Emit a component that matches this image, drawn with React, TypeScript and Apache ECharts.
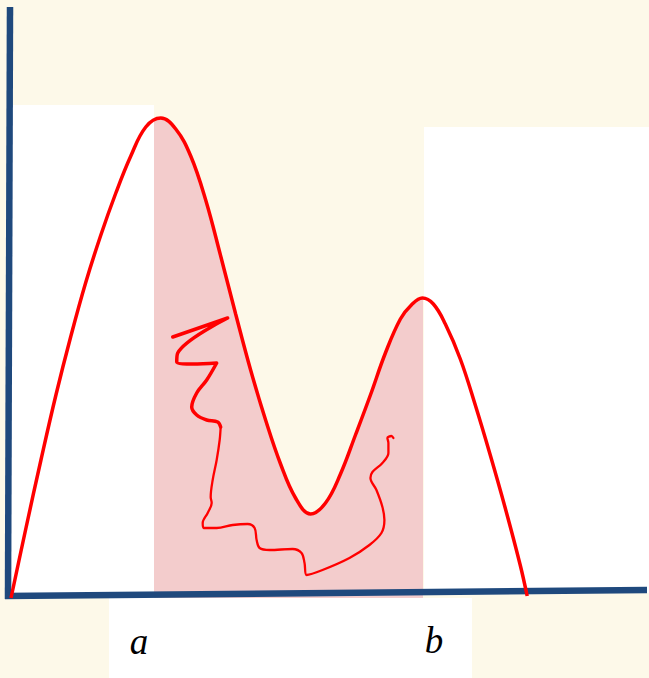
import { useEffect, useRef } from "react";
import * as echarts from "echarts";

// Bimodal density curve along the horizontal axis (plot units)
const curveX = [1, 16, 31, 46, 61, 76, 91, 106, 121, 136, 151, 166, 181, 196, 211, 226, 241, 256, 271, 286, 301, 316, 331, 346, 361, 376, 391, 402, 413, 424, 436, 451, 466, 481, 496, 511, 518];
const curveY = [0, 70, 138, 203, 262, 316, 363, 405, 442, 471, 480, 469, 442, 398, 342, 284, 228, 178, 134, 100, 84, 95, 124, 163, 203, 245, 279, 293, 300, 294, 274, 239, 193, 143, 90, 33, 2];

// Integration bounds a and b
const boundA = 144;
const boundB = 414;
const boundLabels = ["a", "b"];

// Hand-drawn squiggle inside the shaded area: upper zig-zag, then the long tail
const squiggleTopX = [163, 218, 168, 167, 183, 207, 197, 187, 182, 187, 197, 208, 211];
const squiggleTopY = [261, 280, 245, 236, 234, 235, 218, 205, 191, 183, 178, 176, 171];
const squiggleTailX = [211, 210, 207, 203, 201, 202, 198, 193, 194, 207, 223, 238, 245, 247, 250, 260, 283, 292, 295, 297, 313, 340, 360, 372, 375, 373, 367, 361, 363, 373, 379, 379, 378, 382, 384];
const squiggleTailY = [171, 158, 138, 118, 101, 95, 85, 75, 70, 70, 73, 74, 70, 58, 50, 48, 49, 45, 35, 23, 28, 40, 53, 65, 78, 91, 108, 120, 126, 135, 145, 155, 160, 162, 160];

const pairs = (xs: number[], ys: number[]) => xs.map((x, i) => [x, ys[i]]);

const CREAM = "#fdf9e9";
const PINK = "#f3cccc";
const RED = "#ff0000";
const AXIS_BLUE = "#1f497d";
const LABEL_FONT = "italic 37px 'Liberation Serif', serif";

export default function App() {
  const ref = useRef<HTMLDivElement>(null);

  useEffect(() => {
    if (!ref.current) return;
    const chart = echarts.init(ref.current, null, { renderer: "svg" });

    const curve = pairs(curveX, curveY);

    chart.setOption({
      animation: false,
      backgroundColor: CREAM,
      grid: { left: 10, top: 0, width: 640, height: 598 },
      xAxis: { type: "value", min: 0, max: 640, show: false },
      yAxis: { type: "value", min: 0, max: 598, show: false },
      visualMap: [
        {
          type: "piecewise",
          show: false,
          seriesIndex: 0,
          dimension: 0,
          pieces: [{ gte: boundA, lte: boundB, color: PINK }],
          outOfRange: { color: "rgba(243,204,204,0)" },
        },
      ],
      graphic: [
        // white panels behind the plot
        { type: "rect", z: 0, shape: { x: 10, y: 105, width: 144, height: 493 }, style: { fill: "#ffffff" }, silent: true },
        { type: "rect", z: 0, shape: { x: 424, y: 127, width: 225, height: 466 }, style: { fill: "#ffffff" }, silent: true },
        { type: "rect", z: 0, shape: { x: 109, y: 598, width: 363, height: 80 }, style: { fill: "#ffffff" }, silent: true },
        // axes
        { type: "line", z: 2, shape: { x1: 10, y1: 7, x2: 8, y2: 599 }, style: { stroke: AXIS_BLUE, lineWidth: 6.5 }, silent: true },
        { type: "line", z: 2, shape: { x1: 5, y1: 596, x2: 647, y2: 590 }, style: { stroke: AXIS_BLUE, lineWidth: 6.5 }, silent: true },
        // bound labels
        {
          type: "text", z: 5, x: 139, y: 641,
          style: { text: boundLabels[0], font: LABEL_FONT, fill: "#000", align: "center", verticalAlign: "middle" },
        },
        {
          type: "text", z: 5, x: 434, y: 640,
          style: { text: boundLabels[1], font: LABEL_FONT, fill: "#000", align: "center", verticalAlign: "middle" },
        },
      ],
      series: [
        {
          type: "line",
          z: 1,
          data: curve,
          smooth: 0.4,
          showSymbol: false,
          clip: false,
          silent: true,
          lineStyle: { width: 0 },
          areaStyle: { opacity: 1 },
        },
        {
          type: "line",
          z: 3,
          data: curve,
          smooth: 0.4,
          showSymbol: false,
          clip: false,
          silent: true,
          lineStyle: { color: RED, width: 3.5 },
          itemStyle: { color: RED },
        },
        {
          type: "line",
          z: 4,
          data: pairs(squiggleTopX, squiggleTopY),
          smooth: 0.35,
          showSymbol: false,
          clip: false,
          silent: true,
          lineStyle: { color: RED, width: 3.5, cap: "round", join: "round" },
          itemStyle: { color: RED },
        },
        {
          type: "line",
          z: 4,
          data: pairs(squiggleTailX, squiggleTailY),
          smooth: 0.35,
          showSymbol: false,
          clip: false,
          silent: true,
          lineStyle: { color: RED, width: 2.3, cap: "round", join: "round" },
          itemStyle: { color: RED },
        },
      ],
    });

    return () => chart.dispose();
  }, []);

  return (
    <div
      ref={ref}
      style={{ position: "fixed", left: 0, top: 0, width: 649, height: 678 }}
    />
  );
}
